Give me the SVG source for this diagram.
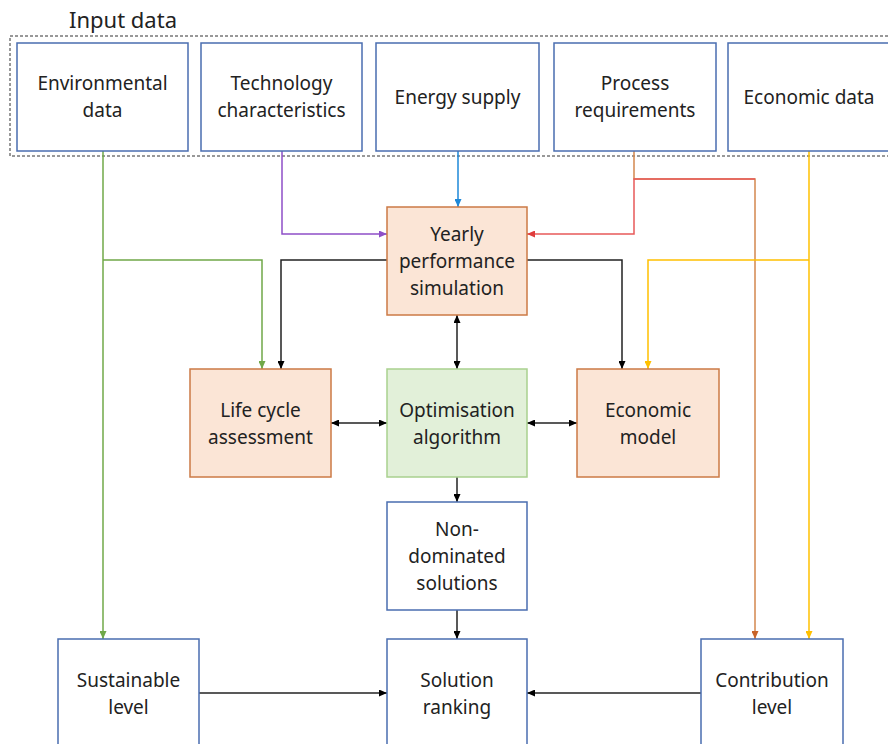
<svg xmlns="http://www.w3.org/2000/svg" width="888" height="744" viewBox="0 0 888 744">
<style>
text{font-family:"Noto Sans","Open Sans",sans-serif;font-size:19px;fill:#222;text-anchor:middle}
.in{fill:#fff;stroke:#4a6db0;stroke-width:1.5}
.pe{fill:#fbe5d6;stroke:#cc7a45;stroke-width:1.5}
.gr{fill:#e2f0d9;stroke:#a9d18e;stroke-width:1.5}
.c{fill:none;stroke-width:1.5}
</style>
<defs>
<marker id="ak" viewBox="0 0 8 7" refX="8" refY="3.5" markerWidth="8" markerHeight="7" markerUnits="userSpaceOnUse" orient="auto-start-reverse"><path d="M0,0L8,3.5L0,7z" fill="#000"/></marker>
<marker id="ag" viewBox="0 0 8 7" refX="8" refY="3.5" markerWidth="8" markerHeight="7" markerUnits="userSpaceOnUse" orient="auto"><path d="M0,0L8,3.5L0,7z" fill="#70a848"/></marker>
<marker id="ap" viewBox="0 0 8 7" refX="8" refY="3.5" markerWidth="8" markerHeight="7" markerUnits="userSpaceOnUse" orient="auto"><path d="M0,0L8,3.5L0,7z" fill="#8e4fc8"/></marker>
<marker id="ab" viewBox="0 0 8 7" refX="8" refY="3.5" markerWidth="8" markerHeight="7" markerUnits="userSpaceOnUse" orient="auto"><path d="M0,0L8,3.5L0,7z" fill="#1e88d8"/></marker>
<marker id="ar" viewBox="0 0 8 7" refX="8" refY="3.5" markerWidth="8" markerHeight="7" markerUnits="userSpaceOnUse" orient="auto"><path d="M0,0L8,3.5L0,7z" fill="#e03c3c"/></marker>
<marker id="ao" viewBox="0 0 8 7" refX="8" refY="3.5" markerWidth="8" markerHeight="7" markerUnits="userSpaceOnUse" orient="auto"><path d="M0,0L8,3.5L0,7z" fill="#c8642a"/></marker>
<marker id="ay" viewBox="0 0 8 7" refX="8" refY="3.5" markerWidth="8" markerHeight="7" markerUnits="userSpaceOnUse" orient="auto"><path d="M0,0L8,3.5L0,7z" fill="#ffc000"/></marker>
</defs>
<rect width="888" height="744" fill="#fff"/>
<g id="input-frame">
<rect x="10" y="36" width="890" height="120" fill="none" stroke="#333" stroke-width="1" stroke-dasharray="3,2"/>
<text x="123" y="28" style="font-size:22px">Input data</text>
</g>
<g id="connectors">
<path class="c" stroke="#70a848" d="M103,151V639" marker-end="url(#ag)"/>
<path class="c" stroke="#70a848" d="M103,260H262V369" marker-end="url(#ag)"/>
<path class="c" stroke="#8e4fc8" d="M282,151V234H387" marker-end="url(#ap)"/>
<path class="c" stroke="#1e88d8" d="M458,151V207" marker-end="url(#ab)"/>
<path class="c" stroke="#d4884f" d="M634,151V179H755V639" marker-end="url(#ao)"/>
<path class="c" stroke="#e85a5a" d="M755,179H634V234H527" marker-end="url(#ar)"/>
<path class="c" stroke="#ffc000" d="M809,151V639" marker-end="url(#ay)"/>
<path class="c" stroke="#ffc000" d="M809,260H648V369" marker-end="url(#ay)"/>
<path class="c" stroke="#222" d="M387,260H281V369" marker-end="url(#ak)"/>
<path class="c" stroke="#222" d="M527,260H622V369" marker-end="url(#ak)"/>
<path class="c" stroke="#222" d="M457,315V369" marker-start="url(#ak)" marker-end="url(#ak)"/>
<path class="c" stroke="#222" d="M331,423H387" marker-start="url(#ak)" marker-end="url(#ak)"/>
<path class="c" stroke="#222" d="M527,423H577" marker-start="url(#ak)" marker-end="url(#ak)"/>
<path class="c" stroke="#222" d="M457,477V502" marker-end="url(#ak)"/>
<path class="c" stroke="#222" d="M457,610V639" marker-end="url(#ak)"/>
<path class="c" stroke="#222" d="M199,693H387" marker-end="url(#ak)"/>
<path class="c" stroke="#222" d="M701,693H527" marker-end="url(#ak)"/>
</g>
<g id="environmental-data"><rect class="in" x="17" y="43" width="171" height="108"/><text x="102.5" y="90">Environmental</text><text x="102.5" y="117">data</text></g>
<g id="technology-characteristics"><rect class="in" x="201" y="43" width="161" height="108"/><text x="281.5" y="90">Technology</text><text x="281.5" y="117">characteristics</text></g>
<g id="energy-supply"><rect class="in" x="376" y="43" width="163" height="108"/><text x="457.5" y="103.5">Energy supply</text></g>
<g id="process-requirements"><rect class="in" x="554" y="43" width="162" height="108"/><text x="635" y="90">Process</text><text x="635" y="117">requirements</text></g>
<g id="economic-data"><rect class="in" x="728" y="43" width="162" height="108"/><text x="809" y="103.5">Economic data</text></g>
<g id="yearly-performance-simulation"><rect class="pe" x="387" y="207" width="140" height="108"/><text x="457" y="241">Yearly</text><text x="457" y="268">performance</text><text x="457" y="295">simulation</text></g>
<g id="life-cycle-assessment"><rect class="pe" x="190" y="369" width="141" height="108"/><text x="260.5" y="416.5">Life cycle</text><text x="260.5" y="443.5">assessment</text></g>
<g id="optimisation-algorithm"><rect class="gr" x="387" y="369" width="140" height="108"/><text x="457" y="416.5">Optimisation</text><text x="457" y="443.5">algorithm</text></g>
<g id="economic-model"><rect class="pe" x="577" y="369" width="142" height="108"/><text x="648" y="416.5">Economic</text><text x="648" y="443.5">model</text></g>
<g id="non-dominated-solutions"><rect class="in" x="387" y="502" width="140" height="108"/><text x="457" y="536">Non-</text><text x="457" y="563">dominated</text><text x="457" y="590">solutions</text></g>
<g id="sustainable-level"><rect class="in" x="58" y="639" width="141" height="108"/><text x="128.5" y="687">Sustainable</text><text x="128.5" y="714">level</text></g>
<g id="solution-ranking"><rect class="in" x="387" y="639" width="140" height="108"/><text x="457" y="687">Solution</text><text x="457" y="714">ranking</text></g>
<g id="contribution-level"><rect class="in" x="701" y="639" width="142" height="108"/><text x="772" y="687">Contribution</text><text x="772" y="714">level</text></g>
</svg>
